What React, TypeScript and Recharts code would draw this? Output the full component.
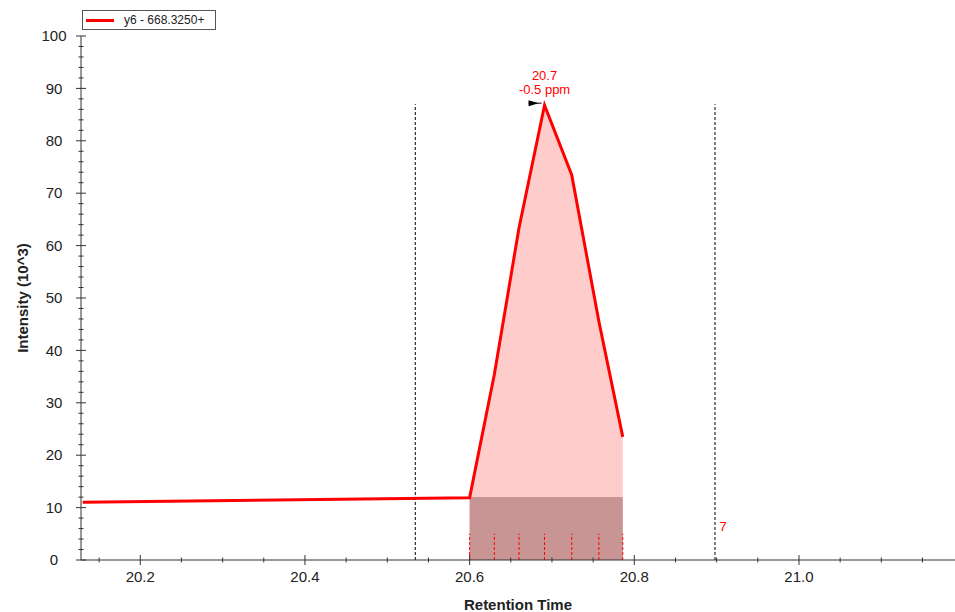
import { ComposedChart, Line, Area, XAxis, YAxis, ReferenceLine, ReferenceDot } from "recharts";

// retention time trace (x in min, y in 10^3 counts)
const traceTimes = [20.13, 20.6, 20.63, 20.66, 20.691, 20.724, 20.757, 20.786];
const traceIntensity = [11.0, 11.9, 35.4, 63.4, 86.8, 73.5, 45.5, 23.5];

// integrated peak region
const peakTimes = [20.6, 20.63, 20.66, 20.691, 20.724, 20.757, 20.786];
const peakIntensity = [11.9, 35.4, 63.4, 86.8, 73.5, 45.5, 23.5];

// background (baseline) under the peak
const baselineTimes = [20.6, 20.786];
const baselineIntensity = [12, 12];

// integration boundaries
const boundaryTimes = [20.534, 20.898];
const boundaryHeight = 87;

const xMajorTicks = [20.2, 20.4, 20.6, 20.8, 21.0];
const yMajorTicks = [0, 10, 20, 30, 40, 50, 60, 70, 80, 90, 100];

const seriesName = "y6 - 668.3250+";
const peakLabel = ["20.7", "-0.5 ppm"];
const sideLabel = { x: 20.908, y: 6.4, text: "7" };

const X_DOMAIN = [20.128, 21.1895];
const RED = "#ff0000";
const INK = "#222";
const AXIS_FONT = 15;
const NOTE_FONT = 13;

const traceData = traceTimes.map((t, i) => ({ t, v: traceIntensity[i] }));
const peakData = peakTimes.map((t, i) => ({ t, v: peakIntensity[i] }));
const baselineData = baselineTimes.map((t, i) => ({ t, v: baselineIntensity[i] }));

// minor ticks every 0.05 on x, every 2 on y
const xAllTicks: number[] = [];
[20.15, ...xMajorTicks, 21.2].forEach((m) => {
  for (let k = -1; k <= 2; k++) {
    const v = Math.round((m + k * 0.05) * 1000) / 1000;
    if (v > X_DOMAIN[0] && v < X_DOMAIN[1] && !xAllTicks.includes(v)) xAllTicks.push(v);
  }
});
xAllTicks.sort((a, b) => a - b);

const yAllTicks: number[] = [];
yMajorTicks.forEach((m) => {
  for (let k = 0; k < 5; k++) {
    const v = m + k * 2;
    if (v <= 100) yAllTicks.push(v);
  }
});

const isMajor = (list: number[], v: number) => list.some((m) => Math.abs(m - v) < 1e-6);

const XTick = (props: any) => {
  const { x, y, payload } = props;
  const major = isMajor(xMajorTicks, payload.value);
  const h = major ? 5 : 2.5;
  return (
    <g>
      <line x1={x} x2={x} y1={y - h} y2={y + h} stroke="#333" />
      {major && (
        <text x={x} y={y + 17} textAnchor="middle" dy="0.35em" fontSize={AXIS_FONT} fill={INK}>
          {payload.value.toFixed(1)}
        </text>
      )}
    </g>
  );
};

const YTick = (props: any) => {
  const { x, y, payload } = props;
  const major = isMajor(yMajorTicks, payload.value);
  const h = major ? 5 : 2.5;
  return (
    <g>
      <line x1={x - h} x2={x + h} y1={y} y2={y} stroke="#333" />
      {major && (
        <text x={x - 27} y={y} textAnchor="middle" dy="0.35em" fontSize={AXIS_FONT} fill={INK}>
          {payload.value}
        </text>
      )}
    </g>
  );
};

const PeakMarker = (props: any) => {
  const { cx, cy } = props;
  return (
    <g>
      <text x={cx} y={cy - 30} textAnchor="middle" dy="0.35em" fontSize={NOTE_FONT} fill={RED}>{peakLabel[0]}</text>
      <text x={cx} y={cy - 16} textAnchor="middle" dy="0.35em" fontSize={NOTE_FONT} fill={RED}>{peakLabel[1]}</text>
      <line x1={cx - 16} x2={cx - 3} y1={cy - 2} y2={cy - 2} stroke="#000" />
      <polygon points={`${cx - 16},${cy - 5} ${cx - 16},${cy + 1} ${cx - 6},${cy - 2}`} fill="#000" />
    </g>
  );
};

const SideText = (props: any) => (
  <text x={props.cx} y={props.cy} textAnchor="middle" dy="0.35em" fontSize={NOTE_FONT} fill={RED}>{sideLabel.text}</text>
);

const LegendBox = () => (
  <div style={{ position: "absolute", left: 82, top: 10, border: "1px solid #555", width: 132, height: 18, background: "#fff" }}>
    <div style={{ position: "absolute", left: 3, top: 8, width: 28, height: 3, background: RED }} />
    <span style={{ position: "absolute", left: 41, top: 2, fontSize: 12, color: INK, lineHeight: "14px", whiteSpace: "nowrap" }}>{seriesName}</span>
  </div>
);

const App = () => {
  return (
    <div style={{ position: "absolute", left: 0, top: 0, width: 955, height: 612, background: "#fff", fontFamily: "'Liberation Sans', Arial, sans-serif" }}>
      <ComposedChart width={955} height={612} data={traceData} margin={{ top: 36, right: 0, bottom: 0, left: 0 }}>
        <XAxis
          dataKey="t"
          type="number"
          domain={X_DOMAIN}
          allowDataOverflow
          ticks={xAllTicks}
          interval={0}
          height={52}
          tickSize={0}
          tickMargin={0}
          tickLine={false}
          axisLine={{ stroke: "#333" }}
          tick={<XTick />}
          label={{ value: "Retention Time", position: "insideBottom", offset: 2, fontSize: AXIS_FONT, fontWeight: "bold", fill: INK }}
        />
        <YAxis
          type="number"
          domain={[0, 100]}
          ticks={yAllTicks}
          interval={0}
          width={81}
          tickSize={0}
          tickMargin={0}
          tickLine={false}
          axisLine={{ stroke: "#333" }}
          tick={<YTick />}
          label={{ value: "Intensity (10^3)", angle: -90, position: "center", dx: -18, fontSize: AXIS_FONT, fontWeight: "bold", fill: INK }}
        />
        <Area data={peakData} dataKey="v" type="linear" stroke="none" fill="#ffcccc" fillOpacity={1} baseValue={0} isAnimationActive={false} legendType="none" />
        <Area data={baselineData} dataKey="v" type="linear" stroke="none" fill="#c89494" fillOpacity={1} baseValue={0} isAnimationActive={false} legendType="none" />
        {peakTimes.map((t) => (
          <ReferenceLine key={t} segment={[{ x: t, y: 0 }, { x: t, y: 5 }]} stroke={RED} strokeDasharray="3 2" />
        ))}
        {boundaryTimes.map((t) => (
          <ReferenceLine key={t} segment={[{ x: t, y: 0 }, { x: t, y: boundaryHeight }]} stroke="#000" strokeDasharray="3 2" />
        ))}
        <Line dataKey="v" type="linear" stroke={RED} strokeWidth={3} dot={false} isAnimationActive={false} name={seriesName} />
        <ReferenceDot x={peakTimes[3]} y={peakIntensity[3]} shape={<PeakMarker />} />
        <ReferenceDot x={sideLabel.x} y={sideLabel.y} shape={<SideText />} />
      </ComposedChart>
      <LegendBox />
    </div>
  );
};

export default App;
